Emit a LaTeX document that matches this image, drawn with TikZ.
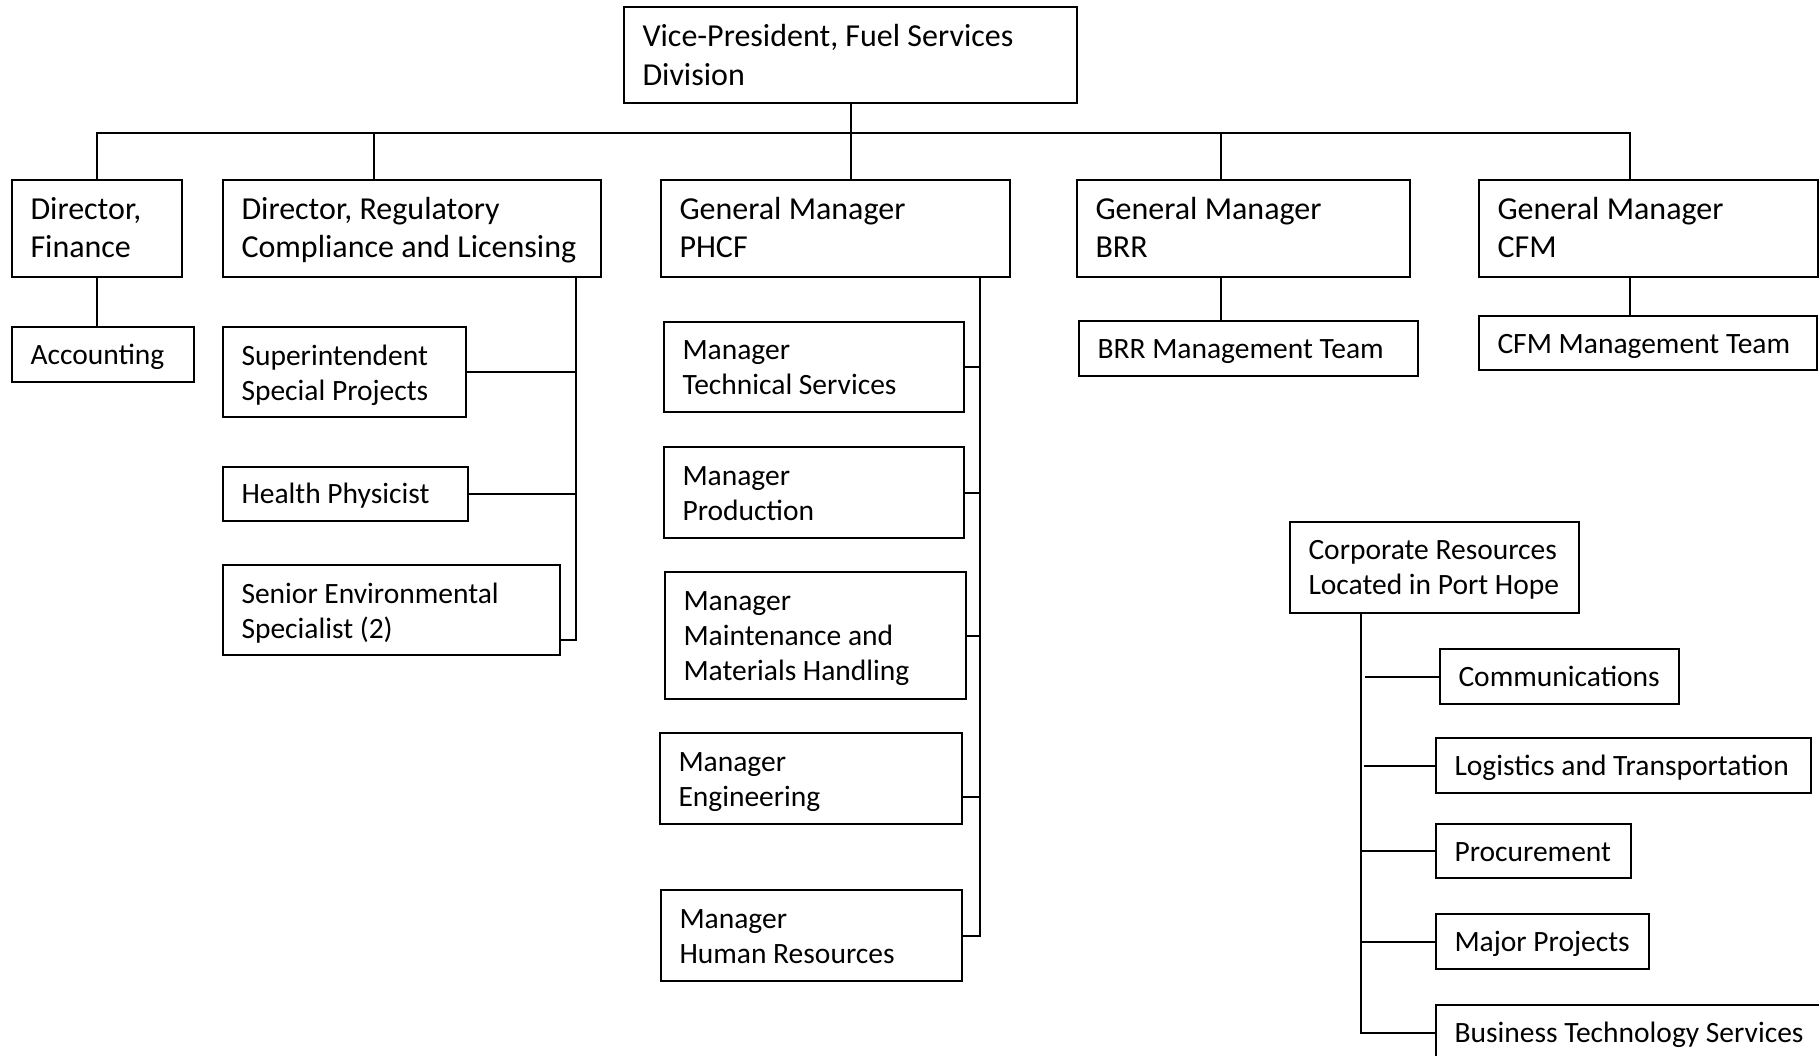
\documentclass[tikz,border=0pt]{standalone}
\usepackage{fontspec}
\setmainfont{Carlito}
\usetikzlibrary{calc}
\begin{document}
\begin{tikzpicture}[x=1pt,y=-1pt,
  orgbox/.style n args={2}{draw, line width=2.2pt, inner sep=0pt, outer sep=0pt,
    minimum width=#1, minimum height=#2, anchor=north west},
  lbl/.style={anchor=north west, inner sep=0pt, outer sep=0pt, align=left,
    font=\fontsize{29.5}{35}\selectfont},
  lblbig/.style={lbl, font=\fontsize{32}{38}\selectfont},
  link/.style={line width=2pt}]

\useasboundingbox (0,0) rectangle (1819,1056);
\fill[white] (0,0) rectangle (1819,1056);
\clip (0,0) rectangle (1819,1056);

% ---- top level ----
\node[orgbox={453pt}{96pt}] (vp) at (624,7) {};
\node[lbl, font=\fontsize{32}{39.5}\selectfont] (vp-t) at ([shift={(18.5,11.4)}]vp.north west)
  {\strut Vice-President, Fuel Services\\Division};

% ---- second row ----
\node[orgbox={170pt}{97pt}] (fin) at (12,180) {};
\node[lblbig] (fin-t) at ([shift={(18.5,13.4)}]fin.north west) {\strut Director,\\Finance};
\node[orgbox={378pt}{97pt}] (reg) at (223,180) {};
\node[lblbig] (reg-t) at ([shift={(18.5,13.4)}]reg.north west) {\strut Director, Regulatory\\Compliance and Licensing};
\node[orgbox={349pt}{97pt}] (phcf) at (661,180) {};
\node[lblbig] (phcf-t) at ([shift={(18.5,13.4)}]phcf.north west) {\strut General Manager\\PHCF};
\node[orgbox={333pt}{97pt}] (brr) at (1077,180) {};
\node[lblbig] (brr-t) at ([shift={(18.5,13.4)}]brr.north west) {\strut General Manager\\BRR};
\node[orgbox={339pt}{97pt}] (cfm) at (1479,180) {};
\node[lblbig] (cfm-t) at ([shift={(18.5,13.4)}]cfm.north west) {\strut General Manager\\CFM};

% ---- finance ----
\node[orgbox={182pt}{55pt}] (acc) at (12,327) {};
\node[lbl] (acc-t) at ([shift={(18.5,13)}]acc.north west) {\strut Accounting};

% ---- regulatory ----
\node[orgbox={243pt}{90pt}] (sup) at (223,327) {};
\node[lbl] (sup-t) at ([shift={(18.5,13.5)}]sup.north west) {\strut Superintendent\\Special Projects};
\node[orgbox={245pt}{54pt}] (hp) at (223,467) {};
\node[lbl] (hp-t) at ([shift={(18.5,12)}]hp.north west) {\strut Health Physicist};
\node[orgbox={337pt}{90pt}] (sen) at (223,565) {};
\node[lbl] (sen-t) at ([shift={(18.5,13.5)}]sen.north west) {\strut Senior Environmental\\Specialist (2)};

% ---- PHCF ----
\node[orgbox={300pt}{90pt}] (mts) at (664,322) {};
\node[lbl] (mts-t) at ([shift={(18.5,13)}]mts.north west) {\strut Manager\\Technical Services};
\node[orgbox={300pt}{91pt}] (mpr) at (664,447) {};
\node[lbl] (mpr-t) at ([shift={(18.5,13.5)}]mpr.north west) {\strut Manager\\Production};
\node[orgbox={301pt}{127pt}] (mmm) at (665,572) {};
\node[lbl] (mmm-t) at ([shift={(18.5,13.5)}]mmm.north west) {\strut Manager\\Maintenance and\\Materials Handling};
\node[orgbox={302pt}{91pt}] (men) at (660,733) {};
\node[lbl] (men-t) at ([shift={(18.5,13.5)}]men.north west) {\strut Manager\\Engineering};
\node[orgbox={301pt}{91pt}] (mhr) at (661,890) {};
\node[lbl] (mhr-t) at ([shift={(18.5,13.5)}]mhr.north west) {\strut Manager\\Human Resources};

% ---- BRR / CFM teams ----
\node[orgbox={339pt}{55pt}] (brrt) at (1079,321) {};
\node[lbl] (brrt-t) at ([shift={(18.5,12.5)}]brrt.north west) {\strut BRR Management Team};
\node[orgbox={338pt}{54pt}] (cfmt) at (1479,316) {};
\node[lbl] (cfmt-t) at ([shift={(18.5,12.5)}]cfmt.north west) {\strut CFM Management Team};

% ---- corporate resources ----
\node[orgbox={289pt}{91pt}] (corp) at (1290,522) {};
\node[lbl] (corp-t) at ([shift={(18.5,12.5)}]corp.north west) {\strut Corporate Resources\\Located in Port Hope};
\node[orgbox={239pt}{55pt}] (com) at (1440,649) {};
\node[lbl] (com-t) at ([shift={(18.5,12.5)}]com.north west) {\strut Communications};
\node[orgbox={375pt}{55pt}] (log) at (1436,738) {};
\node[lbl] (log-t) at ([shift={(18.5,12.5)}]log.north west) {\strut Logistics and Transportation};
\node[orgbox={195pt}{54pt}] (pro) at (1436,824) {};
\node[lbl] (pro-t) at ([shift={(18.5,12.5)}]pro.north west) {\strut Procurement};
\node[orgbox={213pt}{55pt}] (maj) at (1436,914) {};
\node[lbl] (maj-t) at ([shift={(18.5,12.5)}]maj.north west) {\strut Major Projects};
\node[orgbox={400pt}{55pt}] (bts) at (1436,1005) {};
\node[lbl] (bts-t) at ([shift={(18.5,12.5)}]bts.north west) {\strut Business Technology Services};

% ---- connectors: top bus ----
\coordinate (bus) at (0,133);
\coordinate (regDrop) at ([xshift=151pt]reg.north west);
\coordinate (brrDrop) at ([xshift=144pt]brr.north west);
\coordinate (cfmDrop) at ([xshift=151pt]cfm.north west);
\draw[link] (fin.north) |- (cfmDrop |- bus) -- (cfmDrop);
\draw[link] (vp.south) -- (vp.south |- phcf.north);
\draw[link] (regDrop |- bus) -- (regDrop);
\draw[link] (brrDrop |- bus) -- (brrDrop);

% ---- single children ----
\draw[link] (fin.south) -- (fin.south |- acc.north);
\draw[link] (brrDrop |- brr.south) -- (brrDrop |- brrt.north);
\draw[link] (cfmDrop |- cfm.south) -- (cfmDrop |- cfmt.north);

% ---- regulatory branch ----
\coordinate (regV) at ([xshift=-25pt]reg.south east);
\coordinate (senTap) at ([yshift=-30pt]sen.east);
\draw[link] (regV) |- (senTap);
\draw[link] (sup.east) -- (sup.east -| regV);
\draw[link] (hp.east) -- (hp.east -| regV);

% ---- PHCF branch ----
\coordinate (phcfV) at ([xshift=-30.5pt]phcf.south east);
\coordinate (menTap) at ([yshift=-18.5pt]men.east);
\draw[link] (phcfV) |- (mhr.east);
\foreach \n in {mts,mpr,mmm} \draw[link] (\n.east) -- (\n.east -| phcfV);
\draw[link] (menTap) -- (menTap -| phcfV);

% ---- corporate branch ----
\coordinate (corpV) at ([xshift=71pt]corp.south west);
\draw[link] (corpV) |- (bts.west);
\draw[link] (com.west) -- ($(com.west -| corpV)+(4,0)$);
\draw[link] (log.west) -- ($(log.west -| corpV)+(3,0)$);
\foreach \n in {pro,maj} \draw[link] (\n.west) -- (\n.west -| corpV);

\end{tikzpicture}
\end{document}
